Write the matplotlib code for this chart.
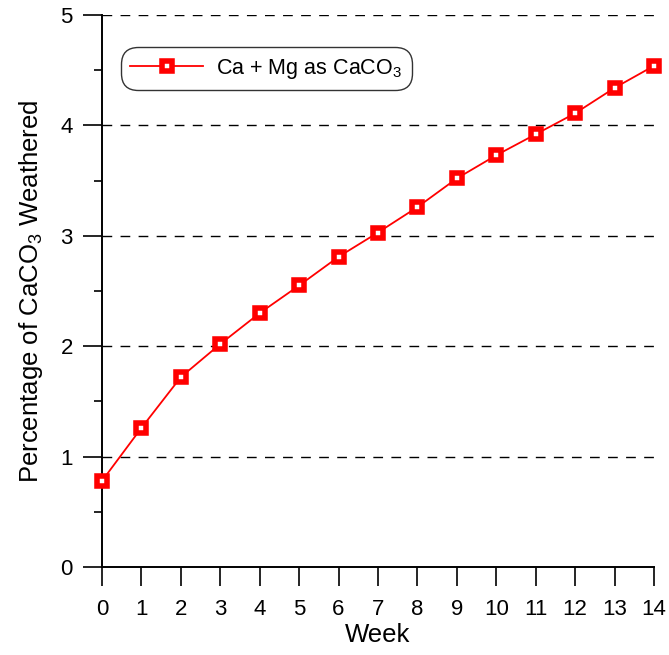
import matplotlib
matplotlib.use("Agg")
import matplotlib.pyplot as plt
from matplotlib.ticker import MultipleLocator

plt.rcParams['font.family'] = ['Liberation Sans', 'DejaVu Sans']
plt.rcParams['mathtext.fontset'] = 'custom'
plt.rcParams['mathtext.rm'] = 'Liberation Sans'

week = [0, 1, 2, 3, 4, 5, 6, 7, 8, 9, 10, 11, 12, 13, 14]
pct = [0.78, 1.26, 1.72, 2.02, 2.30, 2.55, 2.81, 3.03, 3.26, 3.52, 3.73, 3.92, 4.11, 4.34, 4.54]

fig = plt.figure(figsize=(6.69, 6.55), dpi=100)
ax = fig.add_axes([0.1525, 0.1344, 0.825, 0.8426])

for yv in [1, 2, 3, 4, 5]:
    ax.axhline(yv, color="black", linestyle=(0, (7, 6)), linewidth=1, zorder=1)

ax.plot(week, pct, color="red", linewidth=1.3, marker="s", markersize=7.5,
        markerfacecolor="white", markeredgecolor="red", markeredgewidth=4,
        label=r"Ca + Mg as CaCO$_\mathregular{3}$", zorder=3, clip_on=False)

ax.set_xlim(0, 14)
ax.set_ylim(0, 5)
ax.xaxis.set_major_locator(MultipleLocator(1))
ax.yaxis.set_major_locator(MultipleLocator(1))
ax.yaxis.set_minor_locator(MultipleLocator(0.5))
ax.spines['top'].set_visible(False)
ax.spines['right'].set_visible(False)
ax.spines['left'].set_linewidth(1.4)
ax.spines['bottom'].set_linewidth(1.4)
ax.tick_params(axis='both', which='major', direction='out', length=14, width=1.2, labelsize=16)
ax.tick_params(axis='y', which='minor', direction='out', length=6, width=1.2)
ax.tick_params(axis='x', pad=9)
ax.tick_params(axis='y', pad=7)

ax.set_xlabel("Week", fontsize=18.5, labelpad=2)
ax.set_ylabel(r"Percentage of CaCO$_\mathregular{3}$ Weathered", fontsize=18.5, labelpad=11)

leg = ax.legend(loc="upper left", bbox_to_anchor=(0.018, 0.958), fontsize=15.5,
                frameon=True, fancybox=True, edgecolor="black", handlelength=3.4,
                borderpad=0.35, handletextpad=0.6, markerscale=1.0)
leg.get_frame().set_linewidth(1.0)
leg.get_frame().set_boxstyle("round,pad=0.1,rounding_size=0.8")

fig.savefig("out.png", dpi=100)
